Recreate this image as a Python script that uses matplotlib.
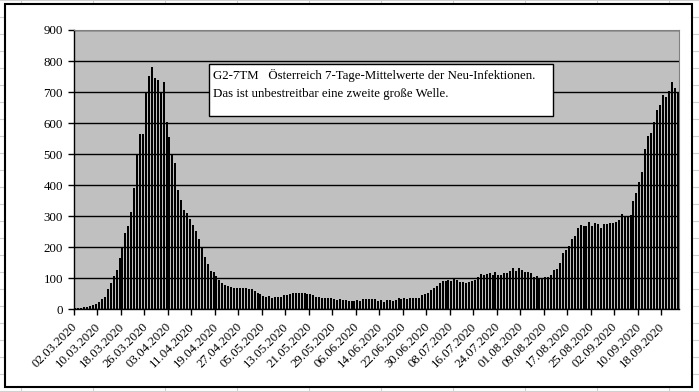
import matplotlib
matplotlib.use("Agg")
import matplotlib.pyplot as plt
from matplotlib.patches import Rectangle
from matplotlib.lines import Line2D

# 7-Tage-Mittelwerte, taeglich ab 02.03.2020
values = [
    4, 4, 5, 7, 8, 11, 14, 18, 25, 33,
    40, 65, 84, 107, 127, 165, 199, 247, 270, 312,
    391, 496, 566, 566, 700, 752, 782, 746, 738, 700,
    733, 604, 554, 500, 470, 385, 353, 320, 310, 291,
    272, 253, 227, 198, 170, 145, 125, 119, 107, 95,
    86, 78, 74, 72, 70, 70, 70, 70, 69, 67,
    65, 59, 53, 49, 44, 41, 44, 38, 41, 41,
    41, 46, 46, 48, 53, 53, 53, 53, 53, 49,
    48, 45, 41, 41, 37, 37, 37, 38, 34, 31,
    33, 31, 30, 28, 28, 28, 31, 28, 34, 34,
    34, 34, 34, 28, 31, 24, 31, 31, 28, 31,
    38, 34, 38, 34, 38, 38, 38, 38, 47, 50,
    53, 63, 69, 75, 84, 90, 90, 94, 90, 98,
    95, 88, 88, 85, 88, 91, 94, 104, 113, 110,
    113, 116, 110, 119, 110, 110, 116, 116, 123, 133,
    123, 133, 128, 119, 119, 116, 104, 107, 100, 100,
    104, 104, 110, 127, 131, 150, 181, 191, 204, 228,
    237, 261, 271, 269, 269, 282, 269, 277, 275, 262,
    275, 275, 278, 278, 280, 288, 308, 299, 299, 303,
    350, 376, 411, 442, 518, 557, 568, 604, 643, 658,
    691, 684, 704, 733, 714, 701,
]

tick_labels = [
    "02.03.2020", "10.03.2020", "18.03.2020", "26.03.2020", "03.04.2020",
    "11.04.2020", "19.04.2020", "27.04.2020", "05.05.2020", "13.05.2020",
    "21.05.2020", "29.05.2020", "06.06.2020", "14.06.2020", "22.06.2020",
    "30.06.2020", "08.07.2020", "16.07.2020", "24.07.2020", "01.08.2020",
    "09.08.2020", "17.08.2020", "25.08.2020", "02.09.2020", "10.09.2020",
    "18.09.2020",
]
label_step = 8

title_lines = [
    "G2-7TM   Österreich 7-Tage-Mittelwerte der Neu-Infektionen.",
    "Das ist unbestreitbar eine zweite große Welle.",
]

plt.rcParams["font.family"] = ["Liberation Serif", "DejaVu Serif"]

W, H = 699, 392
fig = plt.figure(figsize=(W / 100, H / 100), dpi=100)


def fx(px):
    return px / W


def fy(py):
    return 1 - py / H


# Tabellen-Gitter im Hintergrund (Excel-Blatt)
for k in range(10):
    x = 20.7 + 72 * k
    fig.add_artist(Line2D([fx(x), fx(x)], [0, 1], color="#d0d0d0", lw=0.8, zorder=-3))
for y in range(0, H, 17):
    fig.add_artist(Line2D([0, 1], [fy(y), fy(y)], color="#d0d0d0", lw=0.8, zorder=-3))

# Diagrammrahmen
fig.add_artist(Rectangle((fx(5), fy(387)), fx(692) - fx(5), fy(4) - fy(387),
                         transform=fig.transFigure, facecolor="white",
                         edgecolor="black", lw=1.5, zorder=-1))

ax = fig.add_axes([fx(74), fy(309.3), fx(679) - fx(74), (309.3 - 30) / H])
ax.set_facecolor("#c0c0c0")

n = len(values)
ax.bar(range(n), values, width=0.68, color="black", zorder=3)
ax.set_xlim(-0.5, n - 0.5)
ax.set_ylim(0, 900)

ax.set_yticks(range(0, 901, 100))
ax.yaxis.grid(True, color="black", lw=1.0)
ax.set_axisbelow(True)

for side in ["top", "right"]:
    ax.spines[side].set_color("#808080")
for side in ["left", "bottom"]:
    ax.spines[side].set_color("black")
    ax.spines[side].set_linewidth(1.0)

# Striche an den Kategoriegrenzen, Beschriftung in der Kategoriemitte
bounds = [-0.5 + label_step * k for k in range(len(tick_labels))]
centers = [label_step * k for k in range(len(tick_labels))]
ax.set_xticks(bounds)
ax.set_xticklabels([])
ax.set_xticks(centers, labels=tick_labels, minor=True)
ax.tick_params(axis="x", which="major", direction="out", length=4, width=1)
ax.tick_params(axis="x", which="minor", length=0, pad=11, labelsize=9.3)
ax.tick_params(axis="y", direction="out", length=4, width=1, pad=4, labelsize=9.3)
for lab in ax.get_xticklabels(minor=True):
    lab.set_rotation(45)
    lab.set_ha("right")
    lab.set_va("center")
    lab.set_rotation_mode("anchor")

# Textfeld
fig.add_artist(Rectangle((fx(209), fy(116)), fx(553) - fx(209), fy(64) - fy(116),
                         transform=fig.transFigure, facecolor="white",
                         edgecolor="black", lw=1.0, zorder=5))
fig.text(fx(212.7), fy(79), title_lines[0], fontsize=9.3, va="baseline", zorder=6)
fig.text(fx(212.7), fy(97.5), title_lines[1], fontsize=9.3, va="baseline", zorder=6)

fig.savefig("out.png", dpi=100)
